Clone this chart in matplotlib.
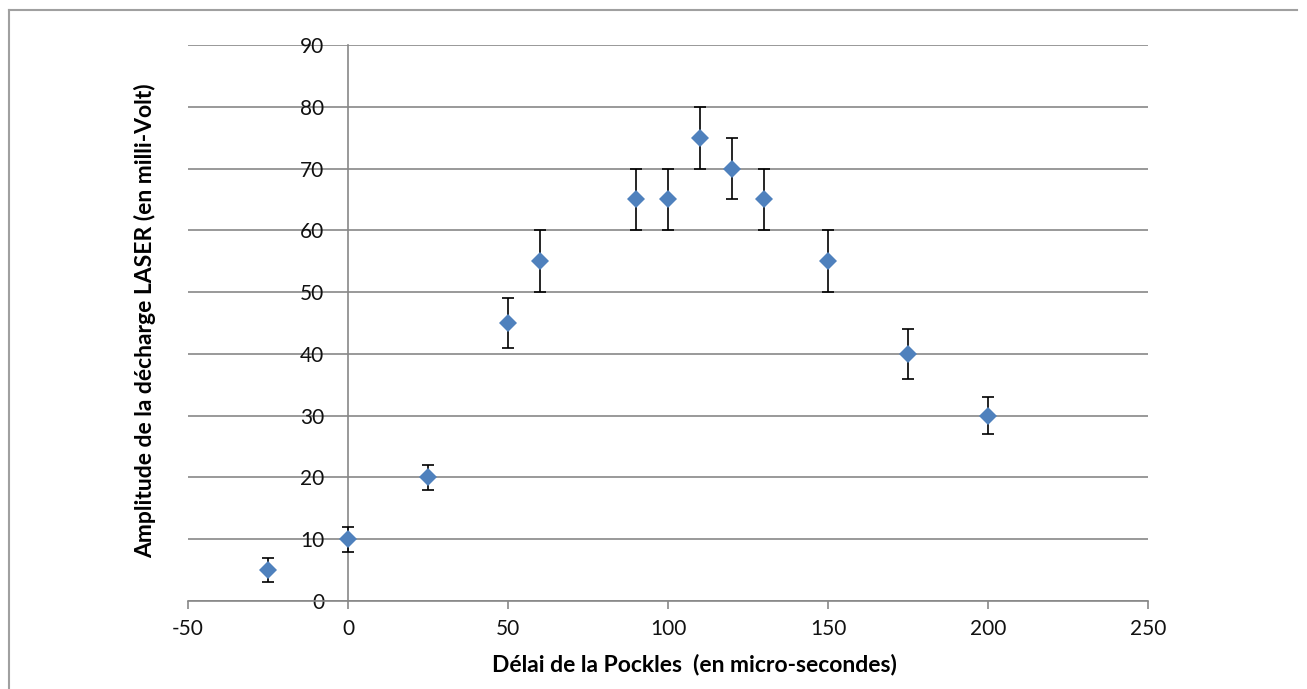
import matplotlib.pyplot as plt
from matplotlib.lines import Line2D

plt.rcParams['font.family'] = ['Lato', 'DejaVu Sans']
plt.rcParams['axes.unicode_minus'] = False

# Data
delay = [-25, 0, 25, 50, 60, 90, 100, 110, 120, 130, 150, 175, 200]
amplitude = [5, 10, 20, 45, 55, 65, 65, 75, 70, 65, 55, 40, 30]
error = [2, 2, 2, 4, 5, 5, 5, 5, 5, 5, 5, 4, 3]

x_ticks = [-50, 0, 50, 100, 150, 200, 250]
y_ticks = [0, 10, 20, 30, 40, 50, 60, 70, 80, 90]

grey = "#878787"

fig = plt.figure(figsize=(13.07, 6.89), dpi=100)
ax = fig.add_axes([0.1438, 0.1277, 0.7346, 0.807])

# Error bars and points
ax.errorbar(delay, amplitude, yerr=error, fmt="none", ecolor="black",
            elinewidth=1.2, capsize=4.5, capthick=1.2, zorder=3)
ax.plot(delay, amplitude, linestyle="none", marker="D", markersize=9.5,
        color="#4F81BD", markeredgewidth=0, zorder=4)

ax.set_xlim(-50, 250)
ax.set_ylim(0, 90)
ax.set_xticks(x_ticks)
ax.set_yticks(y_ticks)

# Horizontal gridlines
ax.yaxis.grid(True, color=grey, linewidth=1.2)
ax.set_axisbelow(True)

# Spines: vertical axis crosses at x = 0
ax.spines["left"].set_position(("data", 0))
ax.spines["left"].set_color(grey)
ax.spines["left"].set_linewidth(1.2)
ax.spines["bottom"].set_color(grey)
ax.spines["bottom"].set_linewidth(1.2)
ax.spines["top"].set_visible(False)
ax.spines["right"].set_visible(False)

ax.tick_params(axis="y", length=0, pad=17, labelsize=15, labelcolor="#111111")
ax.tick_params(axis="x", length=6, width=1.2, color=grey, pad=7,
               labelsize=15, labelcolor="#111111")

fig.text(0.531, 0.035, "Délai de la Pockles  (en micro-secondes)",
         ha="center", va="center", fontsize=16.5, fontweight="bold")
fig.text(0.111, 0.534, "Amplitude de la décharge LASER (en milli-Volt)",
         rotation=90, ha="center", va="center", fontsize=16.5, fontweight="bold")

# Chart area border (top and left visible)
fig.add_artist(Line2D([0.007, 0.992], [0.985, 0.985], transform=fig.transFigure,
                      color="#a0a0a0", linewidth=1.5))
fig.add_artist(Line2D([0.007, 0.007], [0.0, 0.985], transform=fig.transFigure,
                      color="#a0a0a0", linewidth=1.5))

fig.savefig("out.png", dpi=100)
